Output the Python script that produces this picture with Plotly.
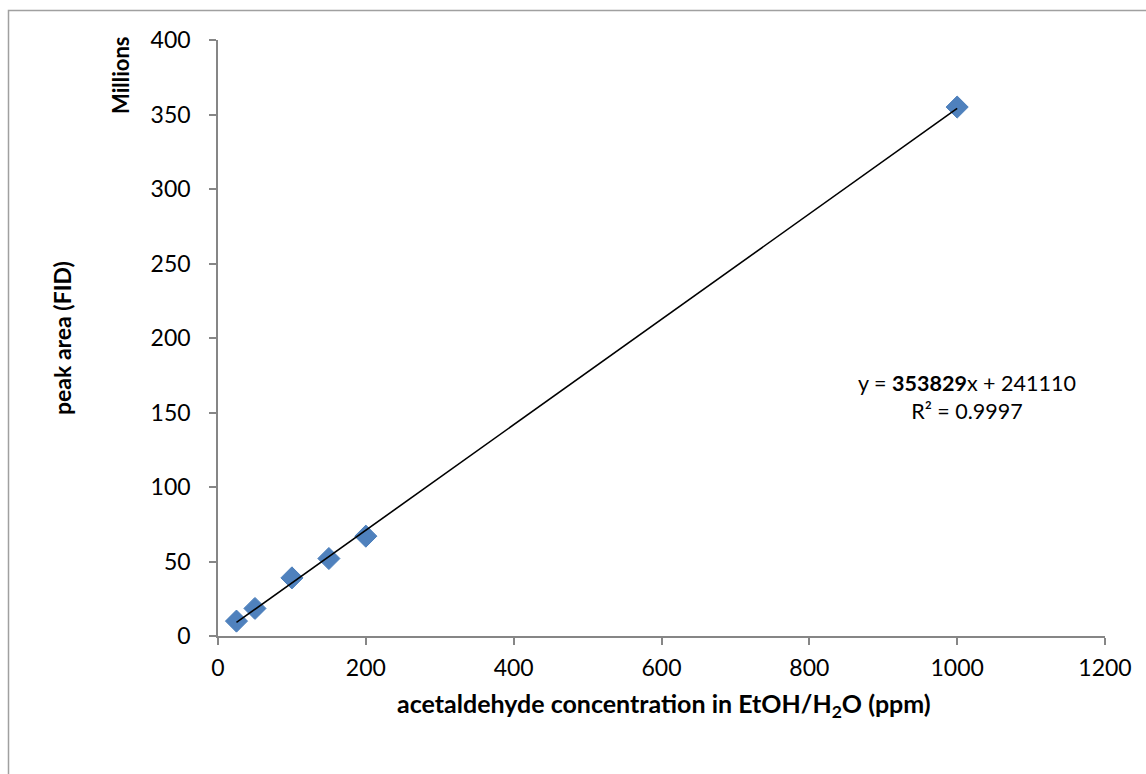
import plotly.graph_objects as go
import numpy as np

# data (ppm, peak area in millions)
conc_ppm = [25, 50, 100, 150, 200, 1000]
peak_area_millions = [10, 18.5, 39, 52, 67, 355]

# trendline coefficients as reported (area = slope*x + intercept, raw units)
slope = 353829
intercept = 241110
r_squared = 0.9997

x_ticks = [0, 200, 400, 600, 800, 1000, 1200]
y_ticks = [0, 50, 100, 150, 200, 250, 300, 350, 400]

W, H = 1146, 774
L, R, T, B = 218, 41, 40, 138
pw, ph = W - L - R, H - T - B

trend_x = np.array([min(conc_ppm), max(conc_ppm)])
trend_y = (slope * trend_x + intercept) / 1e6

font = "Lato, 'Open Sans', sans-serif"
axis_col = "#868686"

fig = go.Figure()
fig.add_trace(go.Scatter(
    x=conc_ppm, y=peak_area_millions, mode="markers",
    marker=dict(symbol="diamond", size=17, color="#4F81BD",
                line=dict(color="#4A7EBB", width=1)),
    showlegend=False))
fig.add_trace(go.Scatter(
    x=trend_x, y=trend_y, mode="lines",
    line=dict(color="black", width=1.6), showlegend=False))

fig.update_layout(
    width=W, height=H,
    margin=dict(l=L, r=R, t=T, b=B),
    paper_bgcolor="white", plot_bgcolor="white",
    font=dict(family=font, size=23, color="black"),
    xaxis=dict(range=[0, 1200], tickvals=x_ticks, showgrid=False, zeroline=False,
               showline=True, linecolor=axis_col, linewidth=1.5,
               ticks="outside", ticklen=7, tickcolor=axis_col, tickwidth=1.5,
               tickfont=dict(size=23), ticklabelstandoff=4),
    yaxis=dict(range=[0, 400], tickvals=y_ticks, showgrid=False, zeroline=False,
               showline=True, linecolor=axis_col, linewidth=1.5,
               ticks="outside", ticklen=7, tickcolor=axis_col, tickwidth=1.5,
               tickfont=dict(size=23), ticklabelstandoff=14),
)

def px_x(p):
    return (p - L) / pw

def px_y(p):
    return (H - B - p) / ph

common = dict(xref="paper", yref="paper", showarrow=False,
              xanchor="center", yanchor="middle")
annotations = [
    dict(text="<b>acetaldehyde concentration in EtOH/H<sub>2</sub>O (ppm)</b>",
         x=px_x(664), y=px_y(705), font=dict(size=25), **common),
    dict(text="<b>peak area (FID)</b>", textangle=-90,
         x=px_x(62), y=px_y(338), font=dict(size=23), **common),
    dict(text="<b>Millions</b>", textangle=-90,
         x=px_x(120), y=px_y(76), font=dict(size=22), **common),
    dict(text=f"y = <b>{slope}</b>x + {intercept}<br>R² = {r_squared}",
         x=px_x(967), y=px_y(397), font=dict(size=21.5), align="center", **common),
]
fig.update_layout(annotations=annotations)

fig.add_shape(type="rect", xref="paper", yref="paper",
              x0=px_x(8.5), x1=px_x(1160), y0=px_y(790), y1=px_y(10.5),
              line=dict(color="#A0A0A0", width=1.5), fillcolor="rgba(0,0,0,0)")

fig.write_html("out.html")
